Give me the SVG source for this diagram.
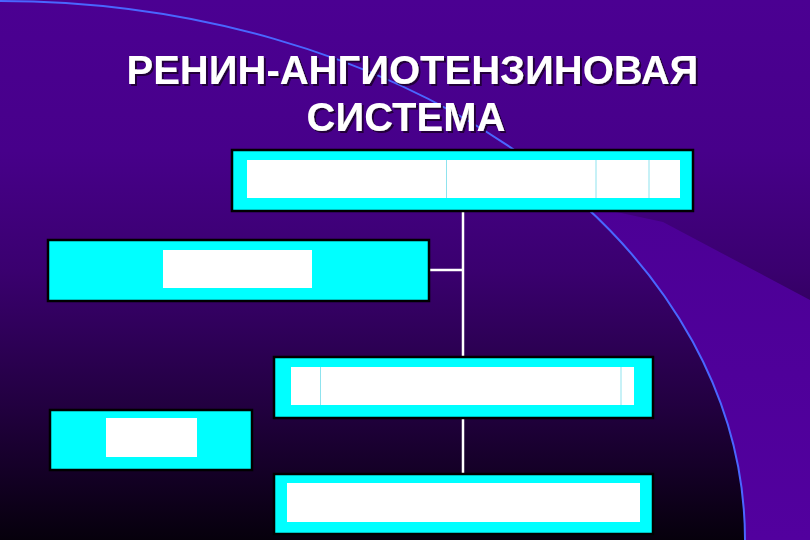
<svg xmlns="http://www.w3.org/2000/svg" width="810" height="540" viewBox="0 0 810 540">
  <defs>
    <linearGradient id="bg" x1="0" y1="0" x2="0" y2="1">
      <stop offset="0" stop-color="#4B0092"/>
      <stop offset="0.28" stop-color="#47008A"/>
      <stop offset="0.5" stop-color="#3A006F"/>
      <stop offset="0.75" stop-color="#220040"/>
      <stop offset="1" stop-color="#06000C"/>
    </linearGradient>
    <linearGradient id="wedge" x1="0" y1="0" x2="0" y2="1">
      <stop offset="0" stop-color="#4C0096"/>
      <stop offset="1" stop-color="#52009E"/>
    </linearGradient>
    <filter id="tshadow" x="-5%" y="-20%" width="110%" height="150%">
      <feDropShadow dx="2" dy="2" stdDeviation="0.6" flood-color="#1A0030" flood-opacity="0.9"/>
    </filter>
    <style>
      .box { fill: #00FFFF; stroke: #000000; stroke-width: 2.5; }
      .inner { fill: #FFFFFF; }
      .div { stroke: #8FE3EE; stroke-width: 1; }
      .conn { stroke: #FFFFFF; stroke-width: 2.5; fill: none; }
      .title { font-family: "Liberation Sans", Arial, sans-serif; font-weight: bold; font-size: 40px; fill: #FFFFFF; }
    </style>
  </defs>

  <g id="background">
    <rect x="0" y="0" width="810" height="540" fill="url(#bg)"/>
    <path d="M584,205 L663,222 L810,300 L810,540 L745,540 A745,539 0 0 0 584,205 Z" fill="url(#wedge)"/>
    <path d="M0,1 A745,539 0 0 1 745,540" fill="none" stroke="#4A66FF" stroke-width="2"/>
  </g>

  <g id="title" filter="url(#tshadow)">
    <text class="title" x="126.5" y="84">РЕНИН-АНГИОТЕНЗИНОВАЯ</text>
    <text class="title" x="306.5" y="130.5">СИСТЕМА</text>
  </g>

  <g id="connectors">
    <line class="conn" x1="463" y1="211" x2="463" y2="357"/>
    <line class="conn" x1="429" y1="270" x2="463" y2="270"/>
    <line class="conn" x1="463" y1="418" x2="463" y2="474"/>
  </g>

  <g id="node1">
    <rect class="box" x="232" y="150" width="461" height="61"/>
    <rect class="inner" x="247" y="160" width="433" height="38"/>
    <line class="div" x1="446.5" y1="160" x2="446.5" y2="198"/>
    <line class="div" x1="596" y1="160" x2="596" y2="198"/>
    <line class="div" x1="649" y1="160" x2="649" y2="198"/>
  </g>

  <g id="node2">
    <rect class="box" x="48" y="240" width="381" height="61"/>
    <rect class="inner" x="163" y="250" width="149" height="38"/>
  </g>

  <g id="node3">
    <rect class="box" x="274" y="357" width="379" height="61"/>
    <rect class="inner" x="291" y="367" width="343" height="38"/>
    <line class="div" x1="320.5" y1="367" x2="320.5" y2="405"/>
    <line class="div" x1="621" y1="367" x2="621" y2="405"/>
  </g>

  <g id="node4">
    <rect class="box" x="50" y="410" width="202" height="60"/>
    <rect class="inner" x="106" y="418" width="91" height="39"/>
  </g>

  <g id="node5">
    <rect class="box" x="274" y="474" width="379" height="60"/>
    <rect class="inner" x="287" y="483" width="353" height="39"/>
  </g>
</svg>
